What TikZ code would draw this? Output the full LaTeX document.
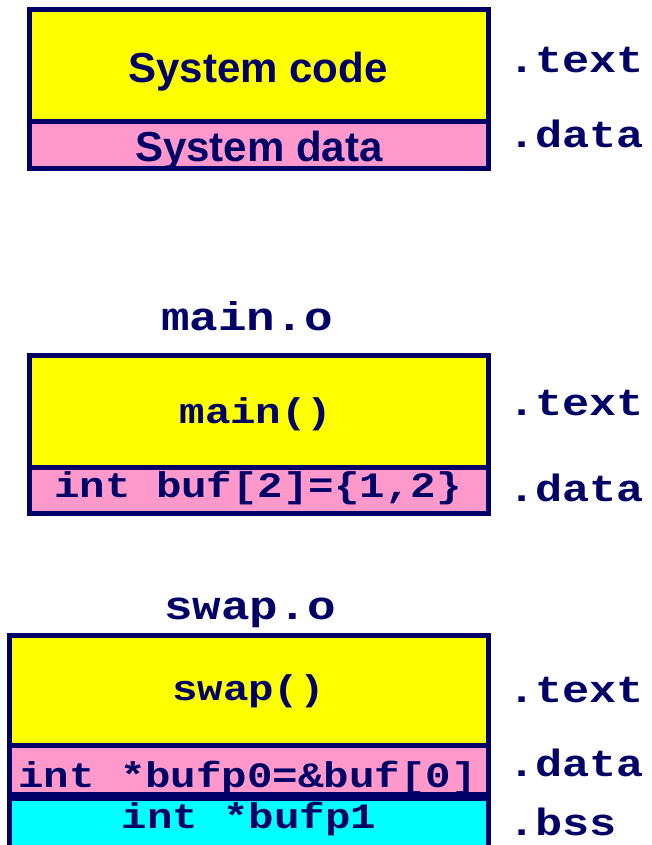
\documentclass[tikz,border=0pt]{standalone}
\usepackage{fontspec}
\setsansfont{Liberation Sans}
\newfontfamily\monowide{Liberation Mono}[FakeStretch=1.19]
\definecolor{navy}{RGB}{0,0,102}
\definecolor{codeyellow}{RGB}{255,255,0}
\definecolor{datapink}{RGB}{255,153,204}
\definecolor{bsscyan}{RGB}{0,255,255}
\begin{document}
\begin{tikzpicture}[x=1pt, y=1pt,
  seg/.style={draw=navy, line width=5pt},
  sec/.style={anchor=base west, inner sep=0pt, text=navy, font=\fontsize{38}{46}\selectfont\monowide\bfseries},
  objname/.style={anchor=base, inner sep=0pt, text=navy, font=\fontsize{40}{46}\selectfont\monowide\bfseries},
  code/.style={anchor=base, inner sep=0pt, text=navy, font=\fontsize{35.7}{42}\selectfont\monowide\bfseries},
  sys/.style={anchor=base, inner sep=0pt, text=navy, font=\fontsize{42}{50}\selectfont\sffamily\bfseries}]
\useasboundingbox (0,0) rectangle (651,-845);
% system
\draw [seg, fill=codeyellow] (29,-10) rectangle (488,-121.5);
\draw [seg, fill=datapink] (29,-121.5) rectangle (488,-169);
\node [sys] (syscode) at (258,-83) {System code};
\node [sys] (sysdata) at (259,-162) {System data};
\node [sec] (systext) at (508,-73) {.text};
\node [sec] (sysdat) at (508,-148) {.data};
% main.o
\node [objname] (mainname) at (247,-330) {main.o};
\draw [seg, fill=codeyellow] (29,-355) rectangle (488,-467.5);
\draw [seg, fill=datapink] (29,-467.5) rectangle (488,-513.5);
\node [code] (mainfn) at (256,-423) {main()};
\node [code] (buf) at (258,-497) {int buf[2]=\{1,2\}};
\node [sec] (maintext) at (508,-415.7) {.text};
\node [sec] (maindata) at (508,-501.7) {.data};
% swap.o
\node [objname] (swapname) at (250,-619) {swap.o};
\draw [seg, fill=codeyellow] (9,-635) rectangle (488,-745.5);
\draw [seg, fill=datapink] (9,-745.5) rectangle (488,-794.2);
\draw [seg, fill=bsscyan] (9,-798.2) rectangle (488,-848);
\node [code] (swapfn) at (248.5,-700) {swap()};
\node [code] (bufp0) at (247.5,-787.5) {int *bufp0=\&buf[0]};
\node [code] (bufp1) at (249,-828) {int *bufp1};
\node [sec] (swaptext) at (508,-702.7) {.text};
\node [sec] (swapdata) at (508,-776.7) {.data};
\node [sec] (swapbss) at (508,-835) {.bss};
\end{tikzpicture}
\end{document}
